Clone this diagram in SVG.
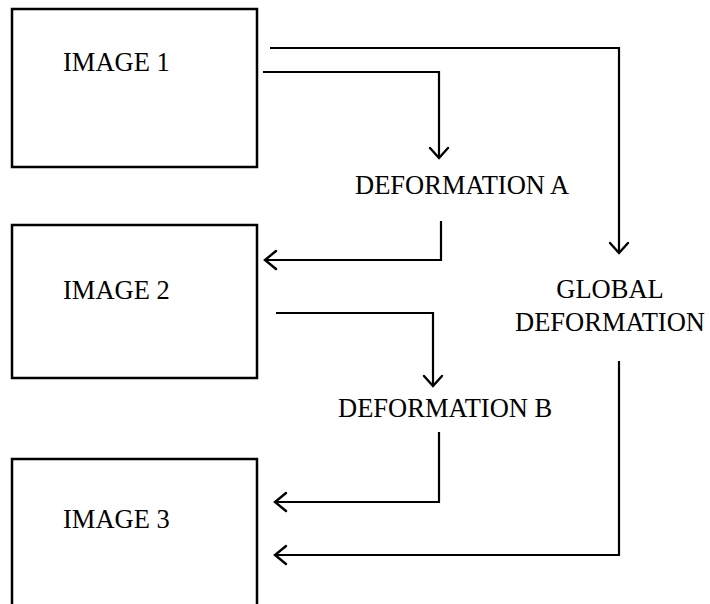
<svg xmlns="http://www.w3.org/2000/svg" width="710" height="604" viewBox="0 0 710 604">
  <style>
    .box { fill: none; stroke: #000; stroke-width: 2.5; }
    .lbl { font-family: "Liberation Serif", "Times New Roman", serif; font-size: 26.5px; fill: #000; }
    .wire { fill: none; stroke: #000; stroke-width: 2.2; stroke-linejoin: miter; }
    .head { fill: none; stroke: #000; stroke-width: 2.4; stroke-linecap: round; stroke-linejoin: miter; }
  </style>

  <g id="image1">
    <rect class="box" x="12" y="9" width="245" height="158"/>
    <text class="lbl" x="63" y="71">IMAGE 1</text>
  </g>

  <g id="image2">
    <rect class="box" x="12" y="225" width="245" height="153"/>
    <text class="lbl" x="63" y="299">IMAGE 2</text>
  </g>

  <g id="image3">
    <path class="box" d="M12,610 V459 H257 V610"/>
    <text class="lbl" x="63" y="528">IMAGE 3</text>
  </g>

  <g id="deformation-a">
    <text class="lbl" x="355" y="194">DEFORMATION A</text>
  </g>

  <g id="deformation-b">
    <text class="lbl" x="338" y="417">DEFORMATION B</text>
  </g>

  <g id="global-deformation">
    <text class="lbl" x="610" y="298" text-anchor="middle">GLOBAL</text>
    <text class="lbl" x="610" y="331" text-anchor="middle">DEFORMATION</text>
  </g>

  <g id="connectors">
    <!-- image 1 to global deformation -->
    <path class="wire" d="M270,48 H619 V252"/>
    <path class="head" d="M610,243 L619,253 L628,243"/>
    <!-- image 1 to deformation A -->
    <path class="wire" d="M263,72 H439 V157"/>
    <path class="head" d="M430,148 L439,158 L448,148"/>
    <!-- deformation A to image 2 -->
    <path class="wire" d="M441,221 V260 H266"/>
    <path class="head" d="M276,251 L265,260 L276,269"/>
    <!-- image 2 to deformation B -->
    <path class="wire" d="M276,313 H433 V385"/>
    <path class="head" d="M424,376 L433,386 L442,376"/>
    <!-- deformation B to image 3 -->
    <path class="wire" d="M439,432 V502 H276"/>
    <path class="head" d="M286,493 L275,502 L286,511"/>
    <!-- global deformation to image 3 -->
    <path class="wire" d="M619,361 V555 H276"/>
    <path class="head" d="M286,546 L275,555 L286,564"/>
  </g>
</svg>
